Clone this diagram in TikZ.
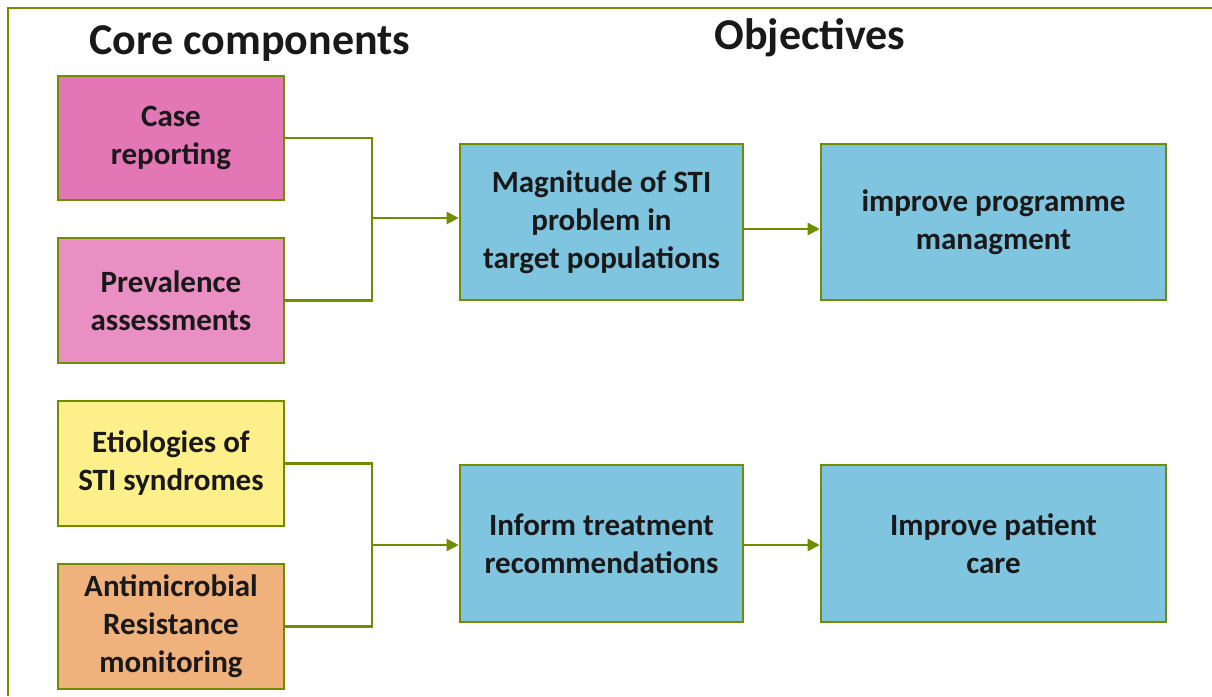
\documentclass[tikz,border=0pt]{standalone}
\usepackage{fontspec}
\setmainfont{Carlito}
\usetikzlibrary{arrows.meta}
\definecolor{edgegreen}{RGB}{110,142,0}
\definecolor{pinkA}{RGB}{227,119,181}
\definecolor{pinkB}{RGB}{233,143,196}
\definecolor{yellowA}{RGB}{253,240,138}
\definecolor{orangeA}{RGB}{240,178,124}
\definecolor{blueA}{RGB}{128,197,224}
\begin{document}
\begin{tikzpicture}[x=1pt,y=-1pt,
  box/.style={draw=edgegreen,line width=2.6pt,inner sep=0pt,align=center,
    font=\fontsize{31}{38}\selectfont\bfseries,text=black!90},
  link/.style={draw=edgegreen,line width=2.4pt},
  arrowlink/.style={link,-{Triangle[length=12pt,width=12pt]}},
  heading/.style={font=\fontsize{44}{50}\selectfont\bfseries,text=black!90}]
\useasboundingbox (0,0) rectangle (1212,696);
% outer frame
\draw[edgegreen,line width=1.5pt] (8,696) -- (8,8) -- (1212,8);
% headings
\node[heading] (hcore) at (250,44) {Core components};
\node[heading] (hobj) at (810,38) {Objectives};
% core component boxes
\node[box,fill=pinkA,minimum width=226pt,minimum height=124pt] (case) at (171,138) {Case\\reporting};
\node[box,fill=pinkB,minimum width=226pt,minimum height=125pt] (prev) at (171,300.5) {Prevalence\\assessments};
\node[box,fill=yellowA,minimum width=226pt,minimum height=125pt] (etio) at (171,463.5) {Etiologies of\\STI syndromes};
\node[box,fill=orangeA,minimum width=226pt,minimum height=125pt] (amr) at (171,626.5) {Antimicrobial\\Resistance\\monitoring};
% objective boxes
\node[box,fill=blueA,minimum width=283pt,minimum height=156pt] (mag) at (601.5,222) {Magnitude of STI\\problem in\\target populations};
\node[box,fill=blueA,minimum width=345pt,minimum height=156pt] (prog) at (993.5,222) {improve programme\\managment};
\node[box,fill=blueA,minimum width=283pt,minimum height=157pt] (inform) at (601.5,543.5) {Inform treatment\\recommendations};
\node[box,fill=blueA,minimum width=345pt,minimum height=157pt] (patient) at (993.5,543.5) {Improve patient\\care};
% bracket joins
\coordinate (j1) at (372,218);
\coordinate (j2) at (372,545);
\draw[link] (case.east) -- (case.east -| j1) -- (prev.east -| j1) -- (prev.east);
\draw[arrowlink] (j1) -- (j1 -| mag.west);
\draw[link] (etio.east) -- (etio.east -| j2) -- (amr.east -| j2) -- (amr.east);
\draw[arrowlink] (j2) -- (j2 -| inform.west);
% objective chain
\draw[arrowlink] (mag.east |- 0,229) -- (prog.west |- 0,229);
\draw[arrowlink] (inform.east |- 0,545) -- (patient.west |- 0,545);
\end{tikzpicture}
\end{document}
